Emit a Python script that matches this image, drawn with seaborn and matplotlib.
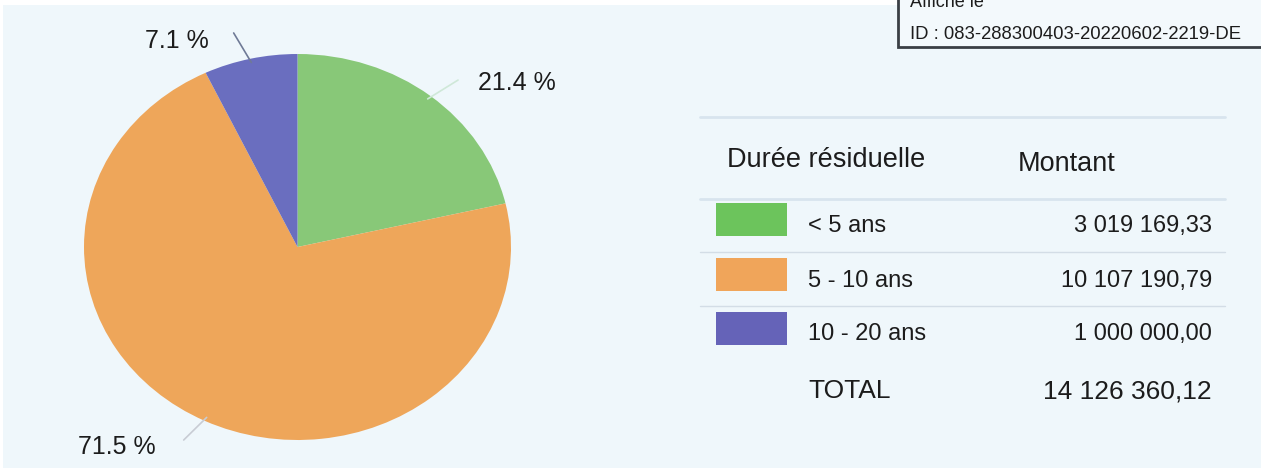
import numpy as np
import matplotlib
matplotlib.use("Agg")
import matplotlib.pyplot as plt
import seaborn as sns
from matplotlib.patches import Rectangle

# data
categories = ["< 5 ans", "5 - 10 ans", "10 - 20 ans"]
montants = [3019169.33, 10107190.79, 1000000.00]
montant_labels = ["3 019 169,33", "10 107 190,79", "1 000 000,00"]
total_label = "14 126 360,12"

slice_colors = ["#88c878", "#eea65a", "#6a6ebf"]
swatch_colors = ["#6cc45c", "#f0a55a", "#6563b8"]

sns.set_theme(style="white")
plt.rcParams['font.family'] = ['Liberation Sans', 'DejaVu Sans']

W, H = 1261, 468
bg = "#eff7fb"
txt = "#1c1c1c"
fig = plt.figure(figsize=(W / 100, H / 100), dpi=100, facecolor=bg)

# pixel overlay axes (layout only)
ov = fig.add_axes([0, 0, 1, 1], zorder=0)
ov.set_xlim(0, W)
ov.set_ylim(H, 0)
ov.axis("off")
ov.add_patch(Rectangle((0, 0), W, 5, color="white", lw=0))
ov.add_patch(Rectangle((0, 0), 3, H, color="white", lw=0))

# top-right stamp box
ov.add_patch(Rectangle((898, -10), 400, 57, facecolor="#f3f9fc",
                       edgecolor="#3a3f45", lw=2))
ov.text(910, 7, "Affiché le", fontsize=13, color=txt, va="baseline")
ov.text(910, 39, "ID : 083-288300403-20220602-2219-DE", fontsize=13.3,
        color=txt, va="baseline")

# pie
left, right, top, bottom = 84, 511, 54, 440
ax = fig.add_axes([left / W, 1 - bottom / H, (right - left) / W, (bottom - top) / H], zorder=1)
wedges, _ = ax.pie(montants, colors=slice_colors, startangle=90, counterclock=False,
                   wedgeprops=dict(linewidth=0))
ax.set_aspect("auto")
ax.set_xlim(-1, 1)
ax.set_ylim(-1, 1)
ax.axis("off")

total = sum(montants)
pcts = [m / total * 100 for m in montants]
# label text positions and leader ends (pie units)
text_pos = [(1.028, 0.850), (-0.846, -1.036), (-0.565, 1.067)]
line_end = [(0.752, 0.865), (-0.533, -1.0), (-0.299, 1.109)]
line_col = ["#cfe8d8", "#c8ccd4", "#6f7a96"]
for w, p, tp, le, lc in zip(wedges, pcts, text_pos, line_end, line_col):
    ang = np.deg2rad((w.theta1 + w.theta2) / 2)
    ex, ey = 0.98 * np.cos(ang), 0.98 * np.sin(ang)
    ax.plot([ex, le[0]], [ey, le[1]], color=lc, lw=1.2, clip_on=False)
    ax.text(tp[0], tp[1], f"{p:.1f} %", fontsize=18, color=txt,
            ha="center", va="center", clip_on=False)

# table / legend
line_c = "#d3dde6"
ov.plot([700, 1225], [117, 117], color="#d8e4ee", lw=2)
ov.text(727, 160, "Durée résiduelle", fontsize=19.5, color=txt, va="center")
ov.text(1018, 164, "Montant", fontsize=19.5, color=txt, va="center")
ov.plot([700, 1225], [199, 199], color="#d8e4ee", lw=2)

row_y = [226, 281, 334]
sw_top = [203, 258, 312]
for i, (cat, val, c) in enumerate(zip(categories, montant_labels, swatch_colors)):
    ov.add_patch(Rectangle((716, sw_top[i]), 71, 33, facecolor=c, edgecolor="none"))
    ov.text(808, row_y[i], cat, fontsize=17, color=txt, va="center")
    ov.text(1212, row_y[i], val, fontsize=17, color=txt, va="center", ha="right")
    if i < 2:
        ov.plot([700, 1225], [(row_y[i] + row_y[i + 1]) / 2 - 2] * 2, color=line_c, lw=1)

ov.text(808, 391, "TOTAL", fontsize=19, color=txt, va="center")
ov.text(1212, 391, total_label, fontsize=19, color=txt, va="center", ha="right")

fig.savefig("out.png", dpi=100, facecolor=bg)
